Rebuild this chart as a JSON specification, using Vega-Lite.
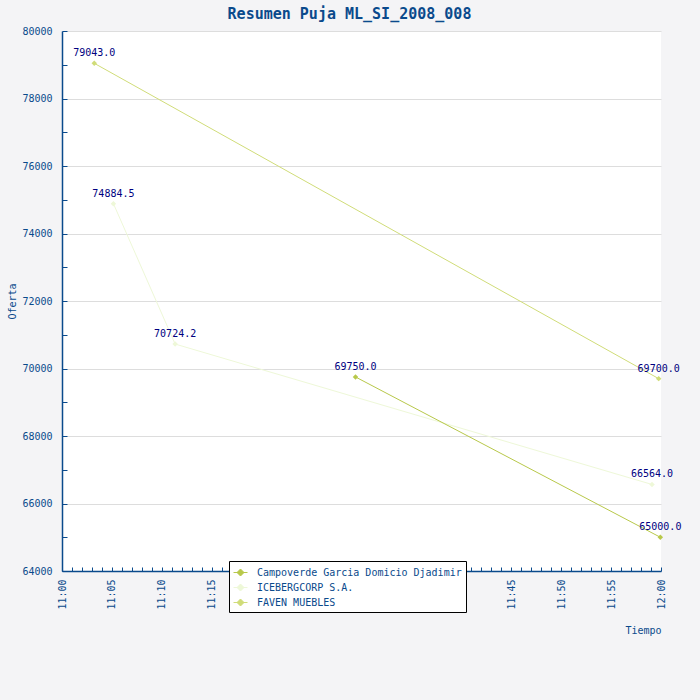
{
  "$schema": "https://vega.github.io/schema/vega-lite/v6.json",
  "width": 599,
  "height": 540,
  "autosize": {"type": "none"},
  "padding": {"left": 62, "top": 31, "right": 39, "bottom": 129},
  "background": "#f4f4f6",
  "config": {
    "view": {"fill": "white", "stroke": null},
    "font": "DejaVu Sans Mono"
  },
  "title": {
    "text": "Resumen Puja ML_SI_2008_008",
    "fontSize": 15,
    "fontWeight": "bold",
    "color": "#0a4a8c",
    "anchor": "middle",
    "dx": -12,
    "offset": 4
  },
  "data": {
    "values": [
      {"empresa": "FAVEN MUEBLES", "tiempo": "2008-01-01T11:03:14", "oferta": 79043.0},
      {"empresa": "FAVEN MUEBLES", "tiempo": "2008-01-01T11:59:46", "oferta": 69700.0},
      {"empresa": "ICEBERGCORP S.A.", "tiempo": "2008-01-01T11:05:09", "oferta": 74884.5},
      {"empresa": "ICEBERGCORP S.A.", "tiempo": "2008-01-01T11:11:20", "oferta": 70724.2},
      {"empresa": "ICEBERGCORP S.A.", "tiempo": "2008-01-01T11:59:06", "oferta": 66564.0},
      {"empresa": "Campoverde Garcia Domicio Djadimir", "tiempo": "2008-01-01T11:29:24", "oferta": 69750.0},
      {"empresa": "Campoverde Garcia Domicio Djadimir", "tiempo": "2008-01-01T11:59:56", "oferta": 65000.0}
    ]
  },
  "encoding": {
    "x": {
      "field": "tiempo",
      "type": "temporal",
      "scale": {
        "domain": [
          {"year": 2008, "month": 1, "date": 1, "hours": 11, "minutes": 0},
          {"year": 2008, "month": 1, "date": 1, "hours": 12, "minutes": 0}
        ]
      },
      "axis": {
        "title": "Tiempo",
        "titleFontSize": 10,
        "titleFontWeight": "normal",
        "titleColor": "#0a4a8c",
        "titleAnchor": "end",
        "titlePadding": 16,
        "format": "%H:%M",
        "tickCount": 60,
        "labelExpr": "(slice(datum.label, -1) == '0' || slice(datum.label, -1) == '5') ? datum.label : ''",
        "labelOverlap": false,
        "labelAngle": -90,
        "labelFontSize": 10,
        "labelColor": "#0a4a8c",
        "labelPadding": 12,
        "tickSize": -4,
        "tickColor": "#0a4a8c",
        "domainColor": "#0a4a8c",
        "domainWidth": 1.5,
        "grid": false
      }
    },
    "y": {
      "field": "oferta",
      "type": "quantitative",
      "scale": {"domain": [64000, 80000], "nice": false, "zero": false},
      "axis": {
        "title": "Oferta",
        "titleFontSize": 10,
        "titleFontWeight": "normal",
        "titleColor": "#0a4a8c",
        "values": [64000, 65000, 66000, 67000, 68000, 69000, 70000, 71000, 72000, 73000, 74000, 75000, 76000, 77000, 78000, 79000, 80000],
        "labelExpr": "datum.value % 2000 == 0 ? datum.label : ''",
        "format": "d",
        "labelFontSize": 10,
        "labelColor": "#0a4a8c",
        "labelPadding": 15,
        "tickSize": -5,
        "tickColor": "#0a4a8c",
        "domainColor": "#0a4a8c",
        "domainWidth": 1.5,
        "gridColor": {"condition": {"test": "datum.value % 2000 == 0", "value": "#dddddd"}, "value": "transparent"}
      }
    },
    "color": {
      "field": "empresa",
      "type": "nominal",
      "scale": {
        "domain": ["Campoverde Garcia Domicio Djadimir", "ICEBERGCORP S.A.", "FAVEN MUEBLES"],
        "range": ["#b8c84a", "#eef8d8", "#d0dc78"]
      },
      "legend": {
        "title": null,
        "orient": "none",
        "legendX": 167,
        "legendY": 530,
        "fillColor": "white",
        "strokeColor": "black",
        "padding": 4,
        "symbolType": "M-1,0L1,0M0,-0.5L0.5,0L0,0.5L-0.5,0Z",
        "symbolSize": 196,
        "symbolStrokeWidth": 1,
        "labelOffset": 9,
        "rowPadding": 2,
        "labelLimit": 400,
        "labelFontSize": 10,
        "labelColor": "#0a4a8c"
      }
    }
  },
  "layer": [
    {"mark": {"type": "line", "strokeWidth": 1}},
    {"mark": {"type": "point", "shape": "diamond", "filled": true, "size": 30, "opacity": 1}},
    {
      "mark": {"type": "text", "dy": -10, "fontSize": 10},
      "encoding": {
        "text": {"field": "oferta", "type": "quantitative", "format": ".1f"},
        "color": {"value": "#000080"}
      }
    }
  ]
}
